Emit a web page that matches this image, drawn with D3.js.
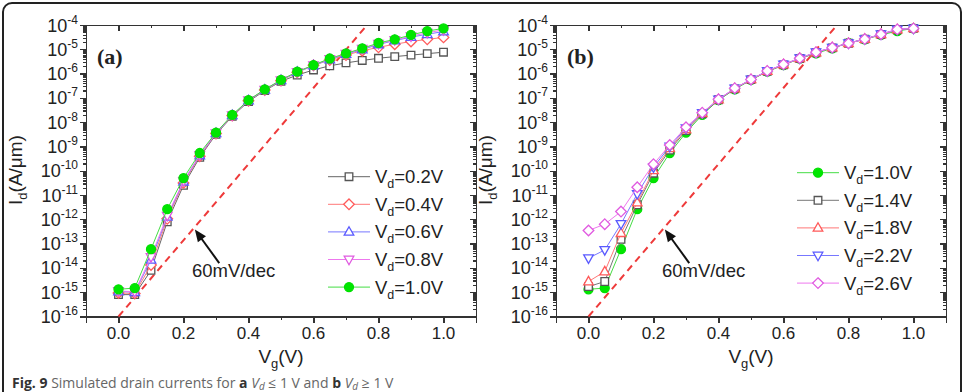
<!DOCTYPE html>
<html>
<head>
<meta charset="UTF-8">
<script src="https://d3js.org/d3.v7.min.js"></script>
<style>
  body { margin: 0; background: #fff; }
  svg text { font-family: "Liberation Sans", Arial, sans-serif; fill: #222; }
  .axis path, .axis line { stroke: #333; stroke-width: 1.3; shape-rendering: crispEdges; }
</style>
</head>
<body>
<svg id="fig" width="967" height="392"></svg>
<script>
// ---------------------------------------------------------------
// data (Id stored as log10 of A/um)
var vg = [0, 0.05, 0.1, 0.15, 0.2, 0.25, 0.3, 0.35, 0.4, 0.45, 0.5,
          0.55, 0.6, 0.65, 0.7, 0.75, 0.8, 0.85, 0.9, 0.95, 1.0];

// panel (a): Vd <= 1 V
var a02 = [-15.1, -15.1, -14.1, -12.1, -10.6, -9.45, -8.5, -7.76, -7.15, -6.7, -6.32,
           -6.06, -5.85, -5.68, -5.56, -5.46, -5.37, -5.30, -5.24, -5.18, -5.12];
var a04 = [-15.03, -15.05, -13.88, -11.98, -10.5, -9.4, -8.47, -7.73, -7.12, -6.68, -6.29,
           -5.95, -5.66, -5.44, -5.24, -5.06, -4.92, -4.79, -4.68, -4.59, -4.51];
var a06 = [-14.97, -15.0, -13.67, -11.9, -10.45, -9.37, -8.46, -7.72, -7.11, -6.67, -6.28,
           -5.94, -5.67, -5.42, -5.2, -5.01, -4.8, -4.64, -4.5, -4.38, -4.27];
var a08 = [-14.95, -14.98, -13.55, -11.85, -10.42, -9.35, -8.45, -7.71, -7.1, -6.66, -6.27,
           -5.93, -5.66, -5.4, -5.18, -4.98, -4.77, -4.62, -4.46, -4.32, -4.2];
var a10 = [-14.88, -14.83, -13.23, -11.58, -10.3, -9.27, -8.43, -7.70, -7.09, -6.65, -6.26,
           -5.92, -5.65, -5.38, -5.17, -4.96, -4.74, -4.59, -4.41, -4.25, -4.14];

// panel (b): Vd >= 1 V
var b14 = [-14.77, -14.56, -12.82, -11.4, -10.1, -9.15, -8.35, -7.66, -7.08, -6.63, -6.25,
           -5.91, -5.64, -5.38, -5.14, -4.94, -4.75, -4.58, -4.39, -4.2, -4.14];
var b18 = [-14.56, -14.15, -12.57, -11.31, -9.98, -9.08, -8.3, -7.64, -7.07, -6.62, -6.24,
           -5.9, -5.63, -5.37, -5.13, -4.93, -4.75, -4.58, -4.38, -4.19, -4.14];
var b22 = [-13.6, -13.26, -12.19, -10.95, -9.85, -9.0, -8.25, -7.62, -7.06, -6.61, -6.24,
           -5.89, -5.62, -5.37, -5.12, -4.93, -4.75, -4.58, -4.38, -4.18, -4.14];
var b26 = [-12.46, -12.2, -11.68, -10.68, -9.73, -8.94, -8.21, -7.61, -7.06, -6.6, -6.24,
           -5.89, -5.62, -5.37, -5.12, -4.93, -4.75, -4.58, -4.38, -4.18, -4.14];

// 60 mV/dec reference line and its note
var slopeVg = [0, 0.765];
var slopeId = [-16, -4];
var noteTip = [0.235, -12.42];
var noteTail = [0.31, -13.8];
var noteText = [0.354, -14.38];

var xTicks = [0, 0.2, 0.4, 0.6, 0.8, 1.0];
var xMinor = [0.1, 0.3, 0.5, 0.7, 0.9];
var yDecades = [-16, -15, -14, -13, -12, -11, -10, -9, -8, -7, -6, -5, -4];

// ---------------------------------------------------------------
var styles = {
  "0.2": {shape: "square",  stroke: "#555",    fill: "#fff",    line: "#666"},
  "0.4": {shape: "diamond", stroke: "#ff5a5a", fill: "#fff",    line: "#ff7777"},
  "0.6": {shape: "up",      stroke: "#5a5aff", fill: "#fff",    line: "#7777ff"},
  "0.8": {shape: "down",    stroke: "#e05ae0", fill: "#fff",    line: "#ee77ee"},
  "1.0": {shape: "circle",  stroke: "#00e000", fill: "#00e600", line: "#44dd44"},
  "1.4": {shape: "square",  stroke: "#555",    fill: "#fff",    line: "#777"},
  "1.8": {shape: "up",      stroke: "#ff5a5a", fill: "#fff",    line: "#ff7777"},
  "2.2": {shape: "down",    stroke: "#5a5aff", fill: "#fff",    line: "#7777ff"},
  "2.6": {shape: "diamond", stroke: "#e05ae0", fill: "#fff",    line: "#ee77ee"}
};

function marker(shape) {
  if (shape === "square") return "M-3.8,-3.8H3.8V3.8H-3.8Z";
  if (shape === "diamond") return "M0,-5.3L5.3,0L0,5.3L-5.3,0Z";
  if (shape === "up") return "M0,-5.2L4.8,3.3H-4.8Z";
  if (shape === "down") return "M0,5.2L4.8,-3.3H-4.8Z";
  return "M4.5,0A4.5,4.5,0,1,1,-4.5,0A4.5,4.5,0,1,1,4.5,0Z";
}

var svg = d3.select("#fig");

// outer frame + caption
svg.append("rect")
  .attr("x", 3).attr("y", 3).attr("width", 958).attr("height", 440)
  .attr("rx", 9).attr("fill", "none").attr("stroke", "#222").attr("stroke-width", 2);

var cap = svg.append("text").attr("x", 12).attr("y", 388).style("font-size", "14px")
  .style("font-family", "'Open Sans', Arial, sans-serif");
cap.append("tspan").style("font-weight", "bold").style("fill", "#333").text("Fig. 9");
cap.append("tspan").style("fill", "#666").text(" Simulated drain currents for ");
cap.append("tspan").style("font-weight", "bold").style("fill", "#333").text("a");
cap.append("tspan").style("fill", "#666").style("font-style", "italic").text(" V");
cap.append("tspan").style("fill", "#666").style("font-style", "italic").style("font-size", "10px").attr("dy", 2).text("d");
cap.append("tspan").style("fill", "#666").attr("dy", -2).text(" \u2264 1 V and ");
cap.append("tspan").style("font-weight", "bold").style("fill", "#333").text("b");
cap.append("tspan").style("fill", "#666").style("font-style", "italic").text(" V");
cap.append("tspan").style("fill", "#666").style("font-style", "italic").style("font-size", "10px").attr("dy", 2).text("d");
cap.append("tspan").style("fill", "#666").attr("dy", -2).text(" \u2265 1 V");

function drawPanel(p) {
  var x = d3.scaleLinear().domain([-0.1, 1.1]).range([p.left, p.right]);
  var y = d3.scaleLog().domain([1e-16, 1e-4]).range([316.5, 25]);
  var g = svg.append("g");

  // axes
  var majY = yDecades.map(function (d) { return Math.pow(10, d); });
  var minY = [];
  yDecades.slice(0, -1).forEach(function (d) {
    for (var k = 2; k < 10; k++) minY.push(k * Math.pow(10, d));
  });

  g.append("g").attr("class", "axis").attr("transform", "translate(" + p.left + ",0)")
    .call(d3.axisLeft(y).tickValues(majY).tickSize(6).tickFormat(""));
  g.append("g").attr("class", "axis").attr("transform", "translate(" + p.left + ",0)")
    .call(d3.axisLeft(y).tickValues(minY).tickSize(3).tickFormat(""));
  g.append("g").attr("class", "axis").attr("transform", "translate(" + p.right + ",0)")
    .call(d3.axisRight(y).tickValues(majY).tickSize(-6).tickFormat(""));
  g.append("g").attr("class", "axis").attr("transform", "translate(" + p.right + ",0)")
    .call(d3.axisRight(y).tickValues(minY).tickSize(-3).tickFormat(""));

  g.append("g").attr("class", "axis").attr("transform", "translate(0,316.5)")
    .call(d3.axisBottom(x).tickValues(xTicks).tickSize(6).tickFormat(""));
  g.append("g").attr("class", "axis").attr("transform", "translate(0,316.5)")
    .call(d3.axisBottom(x).tickValues(xMinor).tickSize(3).tickFormat(""));
  g.append("g").attr("class", "axis").attr("transform", "translate(0,25)")
    .call(d3.axisTop(x).tickValues(xTicks).tickSize(-6).tickFormat(""));
  g.append("g").attr("class", "axis").attr("transform", "translate(0,25)")
    .call(d3.axisTop(x).tickValues(xMinor).tickSize(-3).tickFormat(""));

  // tick labels
  g.selectAll(".xl").data(xTicks).enter().append("text")
    .attr("x", function (d) { return x(d); }).attr("y", 339)
    .attr("text-anchor", "middle").style("font-size", "17px")
    .text(function (d) { return d.toFixed(1); });

  var yl = g.selectAll(".yl").data(yDecades).enter().append("text")
    .attr("x", p.left - 8).attr("y", function (d) { return y(Math.pow(10, d)) + 6.5; })
    .attr("text-anchor", "end").style("font-size", "18px");
  yl.append("tspan").text("10");
  yl.append("tspan").attr("dy", -8).style("font-size", "12px").text(function (d) { return d; });

  // axis titles
  var xt = g.append("text").attr("x", (p.left + p.right) / 2).attr("y", 363)
    .attr("text-anchor", "middle").style("font-size", "19px");
  xt.append("tspan").text("V");
  xt.append("tspan").attr("dy", 5).style("font-size", "13px").text("g");
  xt.append("tspan").attr("dy", -5).text("(V)");

  var yt = g.append("text").attr("transform", "translate(" + (p.left - 64) + ",170) rotate(-90)")
    .attr("text-anchor", "middle").style("font-size", "19px");
  yt.append("tspan").text("I");
  yt.append("tspan").attr("dy", 5).style("font-size", "13px").text("d");
  yt.append("tspan").attr("dy", -5).text("(A/\u03bcm)");

  // panel letter
  g.append("text").attr("x", p.left + 11).attr("y", 64)
    .style("font-family", "'Liberation Serif', 'Times New Roman', serif")
    .style("font-weight", "bold").style("font-size", "22px").text(p.letter);

  // 60 mV/dec line
  g.append("path")
    .datum(slopeVg.map(function (v, i) { return [v, slopeId[i]]; }))
    .attr("d", d3.line().x(function (d) { return x(d[0]); }).y(function (d) { return y(Math.pow(10, d[1])); }))
    .attr("fill", "none").attr("stroke", "#ee3a3a").attr("stroke-width", 2)
    .attr("stroke-dasharray", "7,5");

  // series
  p.series.forEach(function (s) {
    var st = styles[s.key];
    var pts = vg.map(function (v, i) { return [v, Math.pow(10, s.values[i])]; });
    g.append("path").datum(pts)
      .attr("d", d3.line().x(function (d) { return x(d[0]); }).y(function (d) { return y(d[1]); }))
      .attr("fill", "none").attr("stroke", st.line).attr("stroke-width", 1);
    g.selectAll(null).data(pts).enter().append("path")
      .attr("transform", function (d) { return "translate(" + x(d[0]) + "," + y(d[1]) + ")"; })
      .attr("d", marker(st.shape))
      .attr("fill", st.fill).attr("stroke", st.stroke).attr("stroke-width", 1.3);
  });

  // arrow note
  var tipX = x(noteTip[0]), tipY = y(Math.pow(10, noteTip[1]));
  var tlX = x(noteTail[0]), tlY = y(Math.pow(10, noteTail[1]));
  var ang = Math.atan2(tipY - tlY, tipX - tlX);
  g.append("line").attr("x1", tlX).attr("y1", tlY)
    .attr("x2", tipX - 8 * Math.cos(ang)).attr("y2", tipY - 8 * Math.sin(ang))
    .attr("stroke", "#111").attr("stroke-width", 2);
  var hl = 12, hw = 5;
  var bx = tipX - hl * Math.cos(ang), by = tipY - hl * Math.sin(ang);
  g.append("path")
    .attr("d", "M" + tipX + "," + tipY +
      "L" + (bx + hw * Math.sin(ang)) + "," + (by - hw * Math.cos(ang)) +
      "L" + (bx - hw * Math.sin(ang)) + "," + (by + hw * Math.cos(ang)) + "Z")
    .attr("fill", "#111");
  g.append("text").attr("x", x(noteText[0])).attr("y", y(Math.pow(10, noteText[1])))
    .attr("text-anchor", "middle").style("font-size", "18.5px").text("60mV/dec");

  // legend
  p.legend.forEach(function (k, i) {
    var st = styles[k];
    var cy = p.legY + i * 27.6;
    g.append("line").attr("x1", p.legX).attr("x2", p.legX + 42).attr("y1", cy).attr("y2", cy)
      .attr("stroke", st.line).attr("stroke-width", 1);
    g.append("path").attr("transform", "translate(" + (p.legX + 21) + "," + cy + ")")
      .attr("d", marker(st.shape)).attr("fill", st.fill).attr("stroke", st.stroke).attr("stroke-width", 1.3);
    var t = g.append("text").attr("x", p.legX + 47).attr("y", cy + 6.5).style("font-size", "18.5px");
    t.append("tspan").text("V");
    t.append("tspan").attr("dy", 5).style("font-size", "12.5px").text("d");
    t.append("tspan").attr("dy", -5).text("=" + k + "V");
  });
}

drawPanel({
  letter: "(a)", left: 86, right: 476,
  series: [{key: "0.2", values: a02}, {key: "0.4", values: a04}, {key: "0.6", values: a06},
           {key: "0.8", values: a08}, {key: "1.0", values: a10}],
  legend: ["0.2", "0.4", "0.6", "0.8", "1.0"], legX: 328, legY: 176.7
});

drawPanel({
  letter: "(b)", left: 556, right: 946,
  series: [{key: "1.0", values: a10}, {key: "1.4", values: b14}, {key: "1.8", values: b18},
           {key: "2.2", values: b22}, {key: "2.6", values: b26}],
  legend: ["1.0", "1.4", "1.8", "2.2", "2.6"], legX: 797, legY: 172.7
});
</script>
</body>
</html>
